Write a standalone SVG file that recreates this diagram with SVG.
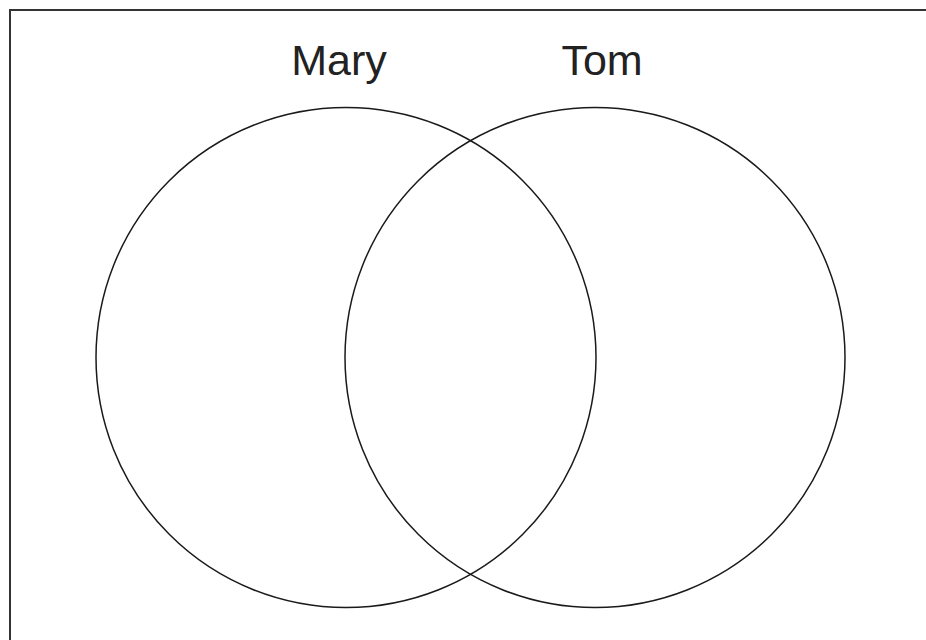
<svg xmlns="http://www.w3.org/2000/svg" width="926" height="640" viewBox="0 0 926 640">
<style>
.c{fill:none;stroke:#1a1a1a;stroke-width:1.5}
.t{font-family:"Liberation Sans",Arial,sans-serif;font-size:43px;fill:#222;text-anchor:middle}
</style>
<rect width="926" height="640" fill="#fff"/>
<rect x="10" y="10" width="940" height="660" fill="none" stroke="#333" stroke-width="2"/>
<g id="mary">
<circle class="c" cx="346" cy="357.5" r="250"/>
<text class="t" x="339" y="75">Mary</text>
</g>
<g id="tom">
<circle class="c" cx="595" cy="357.5" r="250"/>
<text class="t" x="602" y="75">Tom</text>
</g>
<g id="connectors"/>
</svg>
